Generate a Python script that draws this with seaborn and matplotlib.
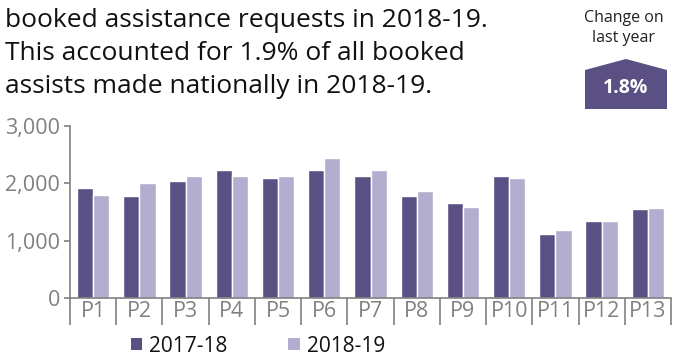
import matplotlib
matplotlib.use("Agg")
import matplotlib.pyplot as plt
from matplotlib.patches import Polygon, Patch
import seaborn as sns
import pandas as pd
import numpy as np

periods = ["P1", "P2", "P3", "P4", "P5", "P6", "P7", "P8", "P9", "P10", "P11", "P12", "P13"]
vals_2017 = [1918, 1779, 2040, 2231, 2092, 2231, 2127, 1779, 1658, 2127, 1118, 1344, 1553]
vals_2018 = [1796, 2005, 2127, 2127, 2127, 2440, 2231, 1866, 1588, 2092, 1188, 1344, 1571]
series = ["2017-18", "2018-19"]
colors = ["#5a5084", "#b3aecf"]
yticks = [0, 1000, 2000, 3000]
ytick_labels = ["0", "1,000", "2,000", "3,000"]
title_lines = ["booked assistance requests in 2018-19.",
               "This accounted for 1.9% of all booked",
               "assists made nationally in 2018-19."]
change_label = "Change on\nlast year"
change_value = "1.8%"

sns.set_theme(style="white")
plt.rcParams["font.family"] = ["Open Sans", "DejaVu Sans"]

df = pd.DataFrame({
    "period": periods * 2,
    "value": vals_2017 + vals_2018,
    "series": [series[0]] * len(periods) + [series[1]] * len(periods),
})

W, H = 676, 360
fig = plt.figure(figsize=(W / 100, H / 100), dpi=100)
ax = fig.add_axes([70 / W, 1 - 298 / H, (671 - 70) / W, (298 - 126) / H])

sns.barplot(data=df, x="period", y="value", hue="series", order=periods,
            hue_order=series, palette=colors, saturation=1, width=0.7,
            gap=0, legend=False, ax=ax)

gray = "#808080"
ax.set_ylim(0, 3000)
ax.set_xlim(-0.5, len(periods) - 0.5)
ax.set_yticks(yticks)
ax.set_yticklabels(ytick_labels)
ax.set_xlabel("")
ax.set_ylabel("")
for s in ["top", "right"]:
    ax.spines[s].set_visible(False)
for s in ["left", "bottom"]:
    ax.spines[s].set_color(gray)
    ax.spines[s].set_linewidth(1.2)
ax.tick_params(axis="y", which="major", left=True, length=4, width=1.2, color=gray,
               labelcolor=gray, labelsize=15.5, pad=3)
ax.set_xticks(np.arange(-0.5, len(periods), 1.0), minor=True)
ax.tick_params(axis="x", which="minor", bottom=True, length=19.5, width=1.2, color=gray)
ax.tick_params(axis="x", which="major", bottom=False, length=0, labelcolor=gray,
               labelsize=15.5, pad=2)
ax.grid(False)

for i, line in enumerate(title_lines):
    fig.text(5 / W, 1 - (27 + 33 * i) / H, line, ha="left", va="baseline",
             fontsize=19, color="#111111")

fig.text(624 / W, 1 - 28 / H, change_label, ha="center", va="center", fontsize=11.5,
         color="#222222", linespacing=1.3)
pent = np.array([[585, 109], [585, 70], [626, 59], [667, 70], [667, 109]], dtype=float)
pent[:, 0] /= W
pent[:, 1] = 1 - pent[:, 1] / H
fig.add_artist(Polygon(pent, closed=True, transform=fig.transFigure,
                       facecolor=colors[0], edgecolor="none"))
fig.text(626 / W, 1 - 88 / H, change_value, ha="center", va="center", fontsize=14,
         color="white", fontweight="bold")

handles = [Patch(facecolor=c, edgecolor="none") for c in colors]
fig.legend(handles, series, loc="center", bbox_to_anchor=(258 / W, 1 - 346 / H),
           ncol=2, frameon=False, fontsize=15, handlelength=0.55, handleheight=0.55,
           handletextpad=0.35, columnspacing=2.9, borderaxespad=0, labelcolor="#111111")

fig.savefig("out.png", dpi=100)
